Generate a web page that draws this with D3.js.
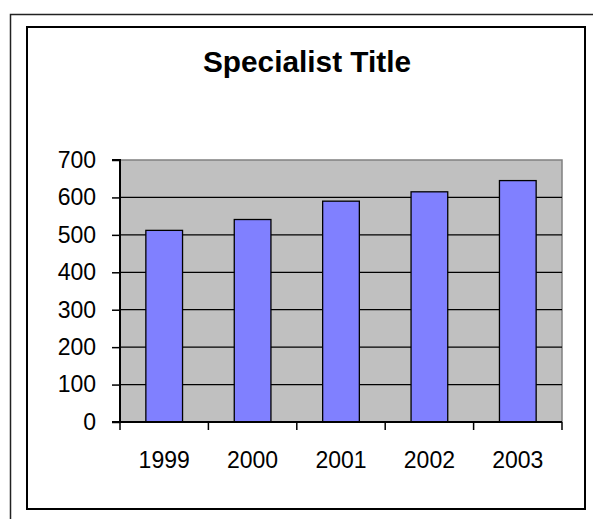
<!DOCTYPE html>
<html><head><meta charset="utf-8">
<script src="https://cdn.jsdelivr.net/npm/d3@7"></script>
<style>body{margin:0;background:#fff}svg{display:block}</style>
</head><body>
<svg id="chart" width="593" height="519"></svg>
<script>
const categories = ["1999","2000","2001","2002","2003"];
const values = [512, 541, 590, 615, 645];
const yTicks = [0,100,200,300,400,500,600,700];
const title = "Specialist Title";

const svg = d3.select("#chart");
const font = "'Liberation Sans', Arial, sans-serif";

// outer frame
svg.append("path").attr("d","M10.5,519 V14.5 H593")
  .attr("fill","none").attr("stroke","#222").attr("stroke-width",1.5);
// inner chart box
svg.append("rect").attr("x",27).attr("y",27).attr("width",558).attr("height",482)
  .attr("fill","#fff").attr("stroke","#000").attr("stroke-width",2);

svg.append("text").attr("x",307).attr("y",72).attr("text-anchor","middle")
  .attr("font-family",font).attr("font-weight","bold").attr("font-size",29.8)
  .text(title);

const L=120, R=562, T=160, B=422;
const x = d3.scaleBand().domain(categories).range([L,R]).padding(0);
const y = d3.scaleLinear().domain([0,700]).range([B,T]);

// plot area
svg.append("rect").attr("x",L).attr("y",T).attr("width",R-L).attr("height",B-T).attr("fill","#C0C0C0");
svg.append("path").attr("d",`M${L},${T} H${R} V${B}`).attr("fill","none").attr("stroke","#808080").attr("stroke-width",1.5);

// gridlines
svg.append("g").selectAll("line").data(yTicks.filter(d=>d>0 && d<700)).join("line")
  .attr("x1",L).attr("x2",R).attr("y1",d=>y(d)).attr("y2",d=>y(d))
  .attr("stroke","#000").attr("stroke-width",1.2);

// bars
const bw = x.bandwidth()*0.415;
svg.append("g").selectAll("rect").data(values).join("rect")
  .attr("x",(d,i)=>x(categories[i])+x.bandwidth()/2-bw/2)
  .attr("y",d=>y(d)).attr("width",bw).attr("height",d=>B-y(d))
  .attr("fill","#8080FF").attr("stroke","#000").attr("stroke-width",1.3);

// y axis
const yAxis = d3.axisLeft(y).tickValues(yTicks).tickSize(8).tickPadding(16).tickFormat(d3.format("d"));
const gy = svg.append("g").attr("transform",`translate(${L},0)`).call(yAxis);
gy.select(".domain").attr("stroke","#000").attr("stroke-width",2).attr("d",`M-8,${T}H0V${B}H-8`);
gy.selectAll(".tick line").attr("stroke","#000").attr("stroke-width",1.5);
gy.selectAll("text").attr("font-family",font).attr("font-size",23).attr("fill","#000");

// x axis
const xEdges = categories.map(c=>x(c)).concat([R]);
const gx = svg.append("g").attr("transform",`translate(0,${B})`);
gx.append("line").attr("x1",L-8).attr("x2",R).attr("y1",0).attr("y2",0).attr("stroke","#000").attr("stroke-width",2);
gx.selectAll("line.t").data(xEdges).join("line").attr("class","t")
  .attr("x1",d=>d).attr("x2",d=>d).attr("y1",0).attr("y2",8).attr("stroke","#000").attr("stroke-width",1.5);
gx.selectAll("text").data(categories).join("text")
  .attr("x",d=>x(d)+x.bandwidth()/2).attr("y",46).attr("text-anchor","middle")
  .attr("font-family",font).attr("font-size",23).attr("fill","#000").text(d=>d);
</script>
</body></html>
